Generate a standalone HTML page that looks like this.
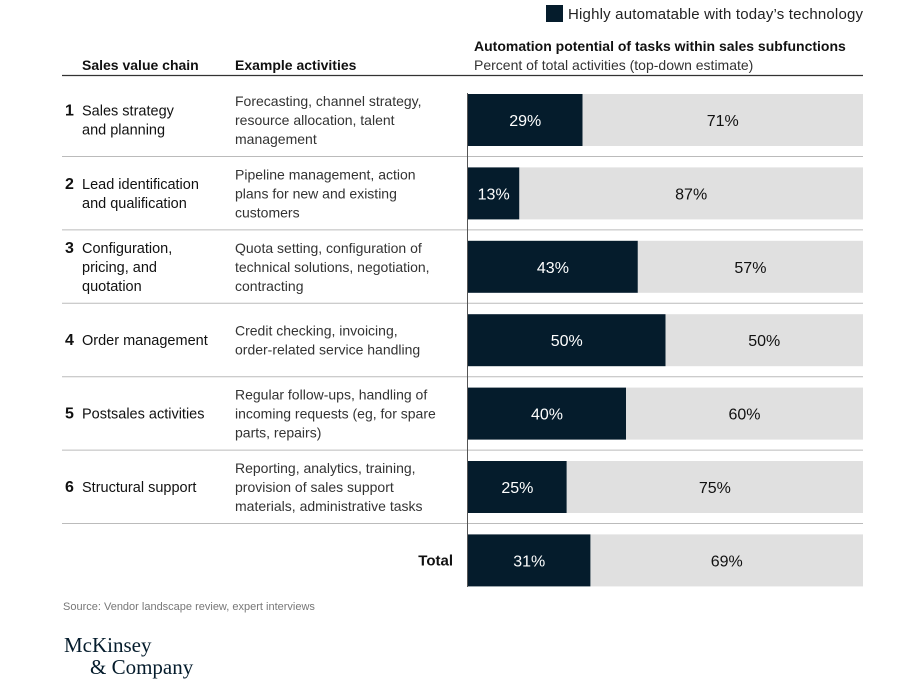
<!DOCTYPE html>
<html><head><meta charset="utf-8"><style>
body{margin:0;background:#fff;}
svg{display:block;font-family:"Liberation Sans",sans-serif;}
</style></head><body>
<svg id="c" width="912" height="696">
<rect x="546" y="5" width="17" height="17" fill="#051c2c"/>
<text x="568" y="19" font-size="15" textLength="295" fill="#222">Highly automatable with today’s technology</text>
<text x="474" y="51" font-size="14" font-weight="bold" fill="#111">Automation potential of tasks within sales subfunctions</text>
<text x="474" y="70" font-size="14" fill="#333">Percent of total activities (top-down estimate)</text>
<text x="82" y="70" font-size="14" font-weight="bold" fill="#111">Sales value chain</text>
<text x="235" y="70" font-size="14" font-weight="bold" fill="#111">Example activities</text>
<line x1="62" y1="75.5" x2="863" y2="75.5" stroke="#333" stroke-width="1.2"/>
<g id="rows"></g>
<line x1="467.5" y1="93" x2="467.5" y2="587" stroke="#555" stroke-width="1"/>
<text x="63" y="610" font-size="11" fill="#777">Source: Vendor landscape review, expert interviews</text>
<text x="64" y="652" font-size="21" font-family="Liberation Serif,serif" fill="#051c2c">McKinsey</text>
<text x="90" y="674" font-size="21" font-family="Liberation Serif,serif" fill="#051c2c">&amp; Company</text>
</svg>
<script>
const categories=["Sales strategy and planning","Lead identification and qualification","Configuration, pricing, and quotation","Order management","Postsales activities","Structural support","Total"];
const automatable=[29,13,43,50,40,25,31];
const remaining=[71,87,57,50,60,75,69];
const labelLines=[["Sales strategy","and planning"],["Lead identification","and qualification"],["Configuration,","pricing, and","quotation"],["Order management"],["Postsales activities"],["Structural support"],["Total"]];
const activityLines=[["Forecasting, channel strategy,","resource allocation, talent","management"],["Pipeline management, action","plans for new and existing","customers"],["Quota setting, configuration of","technical solutions, negotiation,","contracting"],["Credit checking, invoicing,","order-related service handling"],["Regular follow-ups, handling of","incoming requests (eg, for spare","parts, repairs)"],["Reporting, analytics, training,","provision of sales support","materials, administrative tasks"],[]];
const NS="http://www.w3.org/2000/svg";
const g=document.getElementById('rows');
const x0=468,xw=395;
const xs=v=>v/100*xw;
const rowTop=i=>94+i*73.4;
const barH=52;
function mk(t,a){const e=document.createElementNS(NS,t);for(const k in a)e.setAttribute(k,a[k]);g.appendChild(e);return e;}
function txt(x,y,s,size,fill,bold,anchor){const e=mk('text',{x:x,y:y,'font-size':size,fill:fill});if(bold)e.setAttribute('font-weight','bold');if(anchor)e.setAttribute('text-anchor',anchor);e.textContent=s;return e;}
categories.forEach((c,i)=>{
  const top=rowTop(i),cy=top+barH/2;
  const w1=xs(automatable[i]),w2=xs(remaining[i]);
  const r1=mk('rect',{x:x0,y:top,width:w1,height:barH,fill:'#051c2c'});
  
  
  const r2=mk('rect',{x:x0+w1,y:top,width:w2,height:barH,fill:'#e0e0e0'});
  
  
  const t1=txt(x0+w1/2,cy+6,automatable[i]+'%',16,'#fff',false,'middle');
  
  
  const t2=txt(x0+w1+w2/2,cy+6,remaining[i]+'%',16,'#111',false,'middle');
  
  
  const L=labelLines[i];
  if(i<6){
    const y0=cy+5-(L.length-1)*9.5;
    const n=txt(65,y0,String(i+1),16,'#111',true);
    
    
    L.forEach((s,j)=>{const t=txt(82,y0+j*19,s,14.5,'#111');
      
      });
    const A=activityLines[i];
    const ya=cy+5-(A.length-1)*9.5;
    A.forEach((s,j)=>{const t=txt(235,ya+j*19,s,14,'#333');
      
      });
    const ly=top+barH+10.5;
    const ln=mk('line',{x1:62,y1:ly,x2:863,y2:ly,stroke:'#bbb','stroke-width':1});
    
    
  } else {
    const t=txt(453,cy+5,L[0],15,'#111',true,'end');
    
    
  }
});
</script>
</body></html>
